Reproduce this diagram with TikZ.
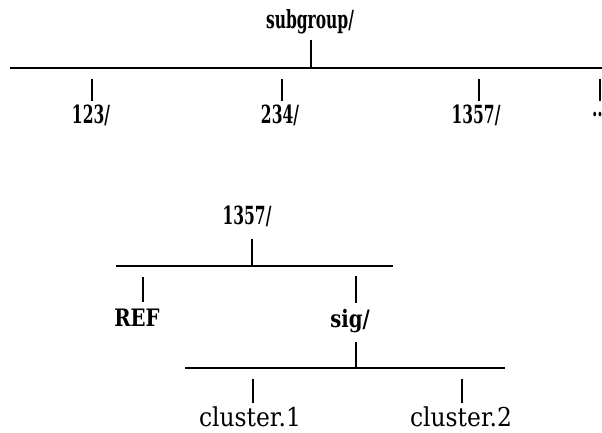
\documentclass[tikz,border=0pt]{standalone}
\usepackage{fontspec}
\newfontfamily\cfont[FakeStretch=0.62]{DejaVu Serif}
\newfontfamily\mfont[FakeStretch=0.82]{DejaVu Serif}
\newfontfamily\nfont[FakeStretch=0.9]{DejaVu Serif}
\tikzset{
  toplabel/.style={inner sep=0pt, font=\cfont\bfseries\fontsize{25}{30}\selectfont},
  midlabel/.style={inner sep=0pt, font=\cfont\bfseries\fontsize{25}{30}\selectfont},
  boldlabel/.style={inner sep=0pt, font=\mfont\bfseries\fontsize{24}{28}\selectfont},
  leaflabel/.style={inner sep=0pt, font=\nfont\fontsize{26}{30}\selectfont},
  bar/.style={line width=1.6pt},
  tick/.style={line width=1.5pt}
}
\begin{document}
\begin{tikzpicture}[x=1pt,y=-1pt]
\useasboundingbox (0,0) rectangle (602,433);
% ---- top tree ----
\node[toplabel] (sub) at (310,22) {subgroup/};
\coordinate (subT) at (311,40);
\coordinate (subB) at (311,68);
\coordinate (barL) at (10,68);
\coordinate (barR) at (602,68);
\draw[bar] (barL) -- (barR);
\draw[tick] (subT) -- (subB);

\node[toplabel] (n123) at (91,115) {123/};
\node[toplabel] (n234) at (280,115) {234/};
\node[toplabel] (n1357) at (476,115) {1357/};
\node[toplabel, anchor=east] (ndots) at (603,115) {..};
\foreach \nm/\xx in {a/92, b/282, c/479, d/600}{
  \coordinate (\nm T) at (\xx,79);
  \coordinate (\nm B) at (\xx,101);
  \draw[tick] (\nm T) -- (\nm B);
}
% ---- lower tree ----
\node[midlabel] (m1357) at (247,216) {1357/};
\coordinate (mT) at (252,239);
\coordinate (mB) at (252,266);
\draw[tick] (mT) -- (mB);
\coordinate (mL) at (116,266);
\coordinate (mR) at (393,266);
\draw[bar] (mL) -- (mR);

\node[boldlabel] (ref) at (137,318) {REF};
\coordinate (rT) at (143,277);
\coordinate (rB) at (143,302);
\draw[tick] (rT) -- (rB);

\node[boldlabel] (sig) at (350,321) {sig/};
\coordinate (sT) at (356,276);
\coordinate (sB) at (356,303);
\draw[tick] (sT) -- (sB);
\coordinate (sdT) at (356,342);
\coordinate (sdB) at (356,368);
\draw[tick] (sdT) -- (sdB);
\coordinate (cL) at (185,368);
\coordinate (cR) at (505,368);
\draw[bar] (cL) -- (cR);

\node[leaflabel] (c1) at (250,417) {cluster.1};
\coordinate (c1T) at (253,379);
\coordinate (c1B) at (253,403);
\draw[tick] (c1T) -- (c1B);
\node[leaflabel] (c2) at (461,417) {cluster.2};
\coordinate (c2T) at (462,379);
\coordinate (c2B) at (462,403);
\draw[tick] (c2T) -- (c2B);
\end{tikzpicture}
\end{document}
